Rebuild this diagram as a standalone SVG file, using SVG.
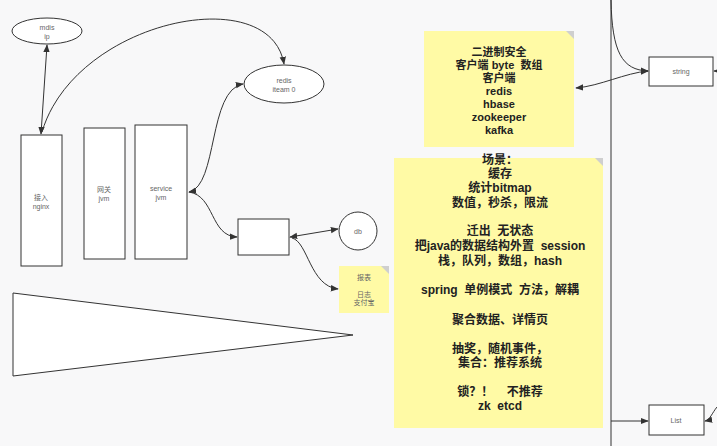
<svg xmlns="http://www.w3.org/2000/svg" width="717" height="446" viewBox="0 0 717 446">
<defs>
<marker id="ah" viewBox="0 0 10 10" refX="9" refY="5" markerWidth="8" markerHeight="8" orient="auto-start-reverse" markerUnits="userSpaceOnUse">
<path d="M0,1 L10,5 L0,9 Z" fill="#333"/>
</marker>
<style>
.sh{fill:#fff;stroke:#333;stroke-width:1}
.st{fill:#fffaa5;stroke:none}
.fold{fill:#cfcfcf}
.sm{font-family:"Liberation Sans","Noto Sans CJK SC",sans-serif;font-size:7px;fill:#666;text-anchor:middle}
.bd{font-family:"Liberation Sans","Noto Sans CJK SC",sans-serif;font-weight:bold;fill:#222;text-anchor:middle}
.c{fill:none;stroke:#333;stroke-width:1}
</style>
</defs>
<rect x="0" y="0" width="717" height="446" fill="#f8f8f9"/>
<line x1="611" y1="0" x2="611" y2="446" stroke="#333" stroke-width="1"/>

<g id="n-redis-ip">
<ellipse class="sh" cx="47" cy="31" rx="35" ry="13"/>
<text class="sm" x="47" y="30">mdis</text>
<text class="sm" x="47" y="39">ip</text>
</g>
<g id="n-redis-team">
<ellipse class="sh" cx="284" cy="84" rx="40" ry="19"/>
<text class="sm" x="284" y="83">redis</text>
<text class="sm" x="284" y="92">iteam 0</text>
</g>
<g id="n-nginx">
<rect class="sh" x="21" y="135" width="41" height="131"/>
<text class="sm" x="41" y="200">接入</text>
<text class="sm" x="41" y="209">nginx</text>
</g>
<g id="n-gateway">
<rect class="sh" x="84" y="128" width="41" height="131"/>
<text class="sm" x="104" y="192">网关</text>
<text class="sm" x="104" y="201">jvm</text>
</g>
<g id="n-service">
<rect class="sh" x="135" y="125" width="52" height="134"/>
<text class="sm" x="161" y="191">service</text>
<text class="sm" x="161" y="200">jvm</text>
</g>
<g id="n-box">
<rect class="sh" x="238" y="219" width="51" height="36"/>
</g>
<g id="n-db">
<circle class="sh" cx="358" cy="231" r="19"/>
<text class="sm" x="358" y="234">db</text>
</g>
<g id="n-note-small">
<rect class="st" x="339" y="266" width="50" height="47"/>
<path class="fold" d="M381,266 L389,266 L389,274 Z"/>
<text class="sm" x="364" y="280">报表</text>
<text class="sm" x="364" y="297">日志</text>
<text class="sm" x="364" y="305">支付宝</text>
</g>
<g id="n-triangle">
<path d="M13,293 L13,376 L353,335 Z" fill="#fff" stroke="#333" stroke-width="1"/>
</g>
<g id="n-note1">
<rect class="st" x="424" y="31" width="150" height="116"/>
<path class="fold" d="M566,31 L574,31 L574,39 Z"/>
<g class="bd" font-size="11">
<text x="499" y="56">二进制安全</text>
<text x="499" y="69">客户端 byte&#160;&#160;数组</text>
<text x="499" y="82">客户端</text>
<text x="499" y="95">redis</text>
<text x="499" y="108">hbase</text>
<text x="499" y="121">zookeeper</text>
<text x="499" y="134">kafka</text>
</g>
</g>
<g id="n-note2">
<rect class="st" x="394" y="158" width="209" height="270"/>
<path class="fold" d="M595,158 L603,158 L603,166 Z"/>
<g class="bd" font-size="12">
<text x="500" y="164">场景：</text>
<text x="500" y="178">缓存</text>
<text x="500" y="192">统计bitmap</text>
<text x="500" y="207">数值，秒杀，限流</text>
<text x="500" y="235">迁出&#160;&#160;无状态</text>
<text x="500" y="250">把java的数据结构外置&#160;&#160;session</text>
<text x="500" y="265">栈，队列，数组，hash</text>
<text x="500" y="294">spring&#160;&#160;单例模式&#160;&#160;方法，解耦</text>
<text x="500" y="324">聚合数据、详情页</text>
<text x="500" y="353">抽奖，随机事件，</text>
<text x="500" y="367">集合：推荐系统</text>
<text x="500" y="396">锁？！&#160;&#160;&#160;&#160;不推荐</text>
<text x="500" y="410">zk&#160;&#160;etcd</text>
</g>
</g>
<g id="n-string">
<rect class="sh" x="649" y="57" width="64" height="29"/>
<text class="sm" x="681" y="74">string</text>
</g>
<g id="n-list">
<rect class="sh" x="649" y="405" width="55" height="30"/>
<text class="sm" x="676" y="423">List</text>
</g>

<g id="connectors">
<path class="c" d="M47,45 L41,134" marker-start="url(#ah)" marker-end="url(#ah)"/>
<path class="c" d="M42,132 C75,20 270,-20 284,64" marker-end="url(#ah)"/>
<path class="c" d="M189,192 C218,186 208,90 243,84" marker-start="url(#ah)" marker-end="url(#ah)"/>
<path class="c" d="M189,192 C215,196 210,236 237,237" marker-end="url(#ah)"/>
<path class="c" d="M290,237 L338,229" marker-start="url(#ah)" marker-end="url(#ah)"/>
<path class="c" d="M292,238 C308,242 310,286 338,289" marker-end="url(#ah)"/>
<path class="c" d="M611,0 C612,52 622,70 648,71" marker-end="url(#ah)"/>
<path class="c" d="M576,88 C600,86 625,73 648,71" marker-start="url(#ah)" marker-end="url(#ah)"/>
<path class="c" d="M717,71 L714,71" marker-end="url(#ah)"/>
<path class="c" d="M611,421 L648,421" marker-end="url(#ah)"/>
<path class="c" d="M717,407 C712,413 710,420 705,421" marker-end="url(#ah)"/>
</g>
</svg>
